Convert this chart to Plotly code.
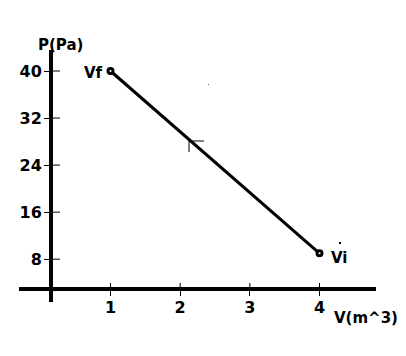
import plotly.graph_objects as go

# ---- data ----
volume = [1, 4]            # V (m^3)
pressure = [40, 9]         # P (Pa)
point_labels = ["Vf", "Vi"]
x_ticks = [1, 2, 3, 4]
y_ticks = [8, 16, 24, 32, 40]

W, H = 406, 356
L, B = 51, 67           # plot-area left edge (y axis) and bottom margin (x axis at 289)
PW, PH = W - L, H - B

def px2x(px):
    return (px - L) / PW

def py2y(py):
    return (H - B - py) / PH

FONT = dict(family="DejaVu Sans, Verdana, sans-serif", size=16, color="#000", weight="bold")

fig = go.Figure()
fig.add_trace(go.Scatter(
    x=volume, y=pressure, mode="lines+markers",
    line=dict(color="#000", width=3),
    marker=dict(symbol="circle", size=5, color="#fff", line=dict(color="#000", width=3)),
    hoverinfo="skip", showlegend=False,
))

# x mapping: 1 -> 110.5px, 4 -> 319.5px ; y mapping: 40 -> 71px, 9 -> 253.3px
xs = (319.5 - 110.5) / 3
xi = 110.5 - xs
ys = (253.3 - 71) / 31
yi = 71 + 40 * ys
xr = [(L - xi) / xs, (W - xi) / xs]
yr = [(yi - (H - B)) / ys, yi / ys]

fig.update_layout(
    width=W, height=H,
    margin=dict(l=L, r=0, t=0, b=B),
    paper_bgcolor="#fff", plot_bgcolor="#fff",
    xaxis=dict(range=xr, tickvals=x_ticks, ticktext=[str(v) for v in x_ticks],
               showgrid=False, zeroline=False, showline=False,
               ticks="outside", ticklen=6, tickwidth=1, tickcolor="#000",
               ticklabelstandoff=-2,
               tickfont=FONT, fixedrange=True),
    yaxis=dict(range=yr, tickvals=y_ticks, ticktext=[str(v) for v in y_ticks],
               showgrid=False, zeroline=False, showline=False,
               ticks="outside", ticklen=6, tickwidth=1, tickcolor="#000",
               ticklabelstandoff=-1,
               tickfont=FONT, fixedrange=True),
)

shapes = []
# axis lines
shapes.append(dict(type="line", xref="paper", yref="paper",
                   x0=px2x(19), x1=px2x(376), y0=py2y(289), y1=py2y(289),
                   line=dict(color="#000", width=4)))
shapes.append(dict(type="line", xref="paper", yref="paper",
                   x0=px2x(51), x1=px2x(51), y0=py2y(50), y1=py2y(302),
                   line=dict(color="#000", width=4)))
# inner parts of tick marks
for v in y_ticks:
    shapes.append(dict(type="line", xref="paper", yref="y", x0=0, x1=px2x(60), y0=v, y1=v,
                       line=dict(color="#000", width=1)))
for v in x_ticks:
    shapes.append(dict(type="line", xref="x", yref="paper", x0=v, x1=v, y0=0, y1=py2y(283),
                       line=dict(color="#000", width=1)))
# small hand-drawn arrowhead on the line and stray dots
shapes.append(dict(type="line", xref="paper", yref="paper", x0=px2x(189), x1=px2x(204),
                   y0=py2y(141), y1=py2y(141), line=dict(color="#000", width=1)))
shapes.append(dict(type="line", xref="paper", yref="paper", x0=px2x(189), x1=px2x(189),
                   y0=py2y(141), y1=py2y(152), line=dict(color="#000", width=1)))
shapes.append(dict(type="rect", xref="paper", yref="paper", x0=px2x(339), x1=px2x(341),
                   y0=py2y(244), y1=py2y(242), line=dict(width=0), fillcolor="#000"))
shapes.append(dict(type="rect", xref="paper", yref="paper", x0=px2x(208), x1=px2x(209),
                   y0=py2y(85), y1=py2y(84), line=dict(width=0), fillcolor="#666"))
fig.update_layout(shapes=shapes)

LF = dict(FONT, size=15)
annotations = [
    dict(text="P(Pa)", xref="paper", yref="paper", x=px2x(60), y=py2y(45),
         xanchor="center", yanchor="middle", showarrow=False, font=LF),
    dict(text="V(m^3)", xref="paper", yref="paper", x=px2x(366), y=py2y(318),
         xanchor="center", yanchor="middle", showarrow=False, font=LF),
    dict(text=point_labels[0], xref="x", yref="y", x=volume[0], y=pressure[0],
         xanchor="right", yanchor="middle", xshift=-6, yshift=-2, showarrow=False, font=LF),
    dict(text=point_labels[1], xref="x", yref="y", x=volume[1], y=pressure[1],
         xanchor="left", yanchor="middle", xshift=9, yshift=-5, showarrow=False, font=LF),
]
fig.update_layout(annotations=annotations)

fig.write_html("out.html")
